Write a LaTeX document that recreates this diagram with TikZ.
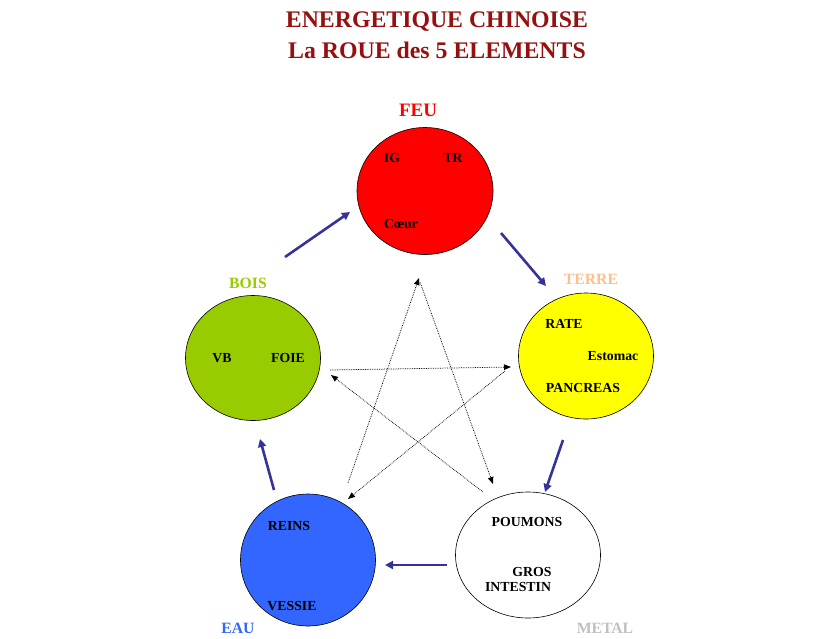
\documentclass[tikz,border=0pt]{standalone}
\usepackage{fontspec}
\setmainfont{Liberation Serif}
\usetikzlibrary{shapes.geometric,arrows.meta}
\definecolor{titlered}{RGB}{150,16,16}
\definecolor{feucol}{RGB}{255,0,0}
\definecolor{terrecol}{RGB}{255,255,0}
\definecolor{boiscol}{RGB}{153,204,0}
\definecolor{eaucol}{RGB}{51,102,255}
\definecolor{terrelab}{RGB}{250,192,144}
\definecolor{metallab}{RGB}{192,192,192}
\definecolor{arrowblue}{RGB}{51,51,153}
\tikzset{
  elem/.style={ellipse, draw=black, line width=0.6pt, inner sep=0pt},
  inner/.style={font=\bfseries\fontsize{13.8}{15}\selectfont, text=black, inner sep=0pt},
  elemlabel/.style={font=\bfseries\fontsize{15.7}{17}\selectfont, inner sep=0pt},
  titletext/.style={font=\bfseries\fontsize{23.8}{28}\selectfont, text=titlered, align=center, inner sep=0pt},
  cycle/.style={draw=arrowblue, line width=2.6pt, -{Triangle[length=8pt,width=8pt]}},
  star/.style={draw=black, line width=0.75pt, densely dotted, -{Triangle[length=7pt,width=5.5pt]}}
}
\begin{document}
\begin{tikzpicture}[x=1pt,y=-1pt]
\path[fill=white, use as bounding box] (0,0) rectangle (840,638);

% title
\node[titletext] (title1) at (437,22) {ENERGETIQUE CHINOISE};
\node[titletext] (title2) at (437,50) {La ROUE des 5 ELEMENTS};

% elements
\node[elem, fill=feucol, minimum width=136pt, minimum height=127pt] (feu) at (425,191) {};
\node[elem, fill=terrecol, minimum width=135pt, minimum height=126pt] (terre) at (586,356) {};
\node[elem, fill=boiscol, minimum width=135pt, minimum height=125pt] (bois) at (253,358) {};
\node[elem, fill=eaucol, minimum width=135pt, minimum height=132pt] (eau) at (308,560) {};
\node[elem, fill=white, minimum width=145pt, minimum height=126pt] (metal) at (528,555) {};

% element labels
\node[elemlabel, text=feucol, font=\bfseries\fontsize{19}{20}\selectfont] (lfeu) at (418,110) {FEU};
\node[elemlabel, text=terrelab] (lterre) at (591,279) {TERRE};
\node[elemlabel, text=boiscol] (lbois) at (248,283) {BOIS};
\node[elemlabel, text=eaucol] (leau) at (238,628) {EAU};
\node[elemlabel, text=metallab] (lmetal) at (605,628) {METAL};

% inner texts
\node[inner] (ig) at (392,158) {IG};
\node[inner] (tr) at (453,158) {TR};
\node[inner] (coeur) at (401,224) {Cœur};
\node[inner] (rate) at (564,324) {RATE};
\node[inner] (estomac) at (613,356) {Estomac};
\node[inner] (pancreas) at (583,388) {PANCREAS};
\node[inner] (vb) at (222,358) {VB};
\node[inner] (foie) at (288,358) {FOIE};
\node[inner] (reins) at (289,526) {REINS};
\node[inner] (vessie) at (292,606) {VESSIE};
\node[inner] (poumons) at (527,522) {POUMONS};
\node[inner] (gros) at (532,572) {GROS};
\node[inner] (intestin) at (518,587) {INTESTIN};

% cycle arrow endpoints
\coordinate (bf1) at (285,257); \coordinate (bf2) at (350,212);
\coordinate (ft1) at (501,233); \coordinate (ft2) at (546,286);
\coordinate (tm1) at (563,440); \coordinate (tm2) at (545,492);
\coordinate (me1) at (447,565); \coordinate (me2) at (385,565);
\coordinate (eb1) at (274,490); \coordinate (eb2) at (260,439);
\draw[cycle] (bf1) -- (bf2);
\draw[cycle] (ft1) -- (ft2);
\draw[cycle] (tm1) -- (tm2);
\draw[cycle] (me1) -- (me2);
\draw[cycle] (eb1) -- (eb2);

% star arrow endpoints
\coordinate (s1a) at (348,483); \coordinate (s1b) at (419,278);
\coordinate (s2a) at (420,282); \coordinate (s2b) at (493,484);
\coordinate (s3a) at (330,370); \coordinate (s3b) at (511,367);
\coordinate (s4a) at (505,371); \coordinate (s4b) at (348,499);
\coordinate (s5a) at (483,492); \coordinate (s5b) at (331,375);
\draw[star] (s1a) -- (s1b);
\draw[star] (s2a) -- (s2b);
\draw[star] (s3a) -- (s3b);
\draw[star] (s4a) -- (s4b);
\draw[star] (s5a) -- (s5b);
\end{tikzpicture}
\end{document}
